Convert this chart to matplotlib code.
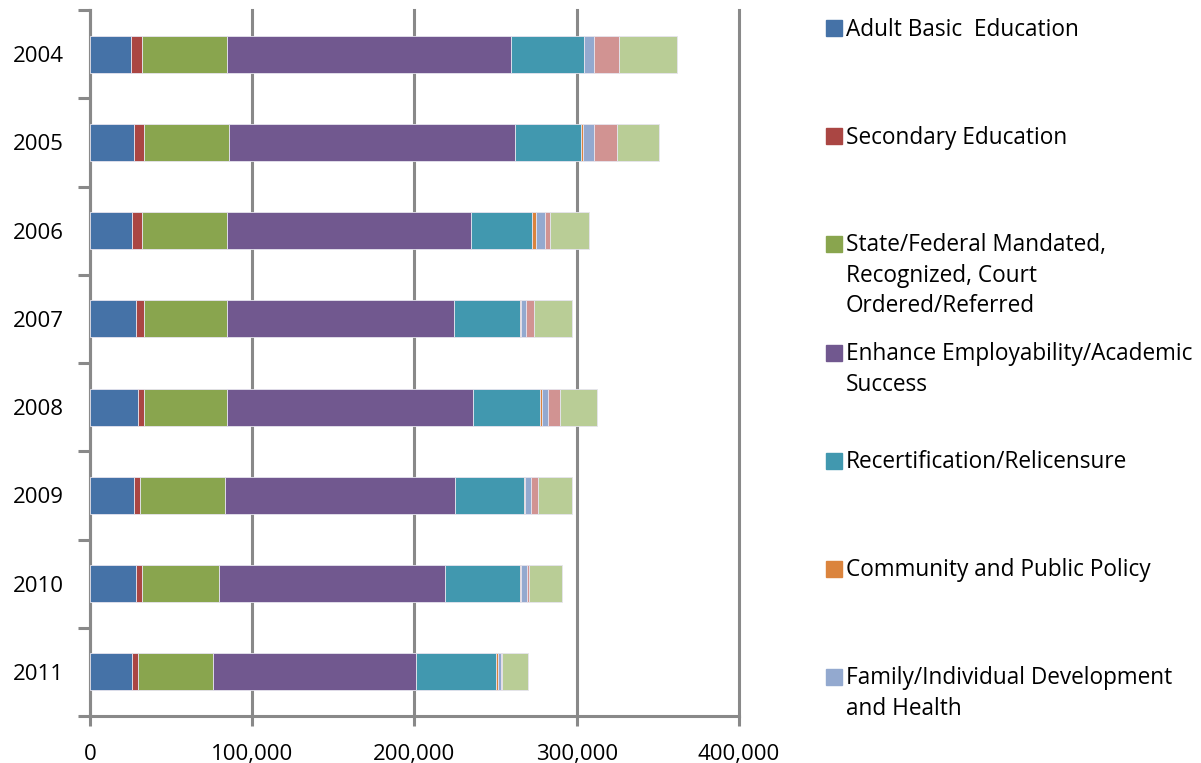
import matplotlib
matplotlib.use("Agg")
import matplotlib.pyplot as plt
from matplotlib.patches import Rectangle
import numpy as np

years = ["2004", "2005", "2006", "2007", "2008", "2009", "2010", "2011"]

adult_basic = [25.0, 27.4, 25.9, 28.3, 29.5, 27.4, 28.3, 25.9]
secondary = [6.8, 5.6, 5.9, 4.7, 3.5, 3.5, 3.5, 3.8]
state_federal = [52.6, 52.6, 52.6, 51.4, 51.4, 52.4, 47.7, 46.2]
enhance = [175.0, 176.2, 150.7, 139.7, 151.9, 141.9, 139.6, 125.0]
recert = [44.8, 40.8, 37.5, 41.2, 41.3, 42.5, 46.2, 49.6]
community = [0.3, 1.4, 2.4, 0.3, 1.2, 0.3, 0.3, 1.2]
family = [5.9, 6.4, 5.2, 3.3, 3.5, 3.5, 3.5, 1.4]
series_8 = [15.8, 14.6, 3.3, 4.9, 7.1, 4.9, 1.2, 1.1]
series_9 = [35.4, 25.5, 24.3, 23.1, 23.3, 20.5, 20.5, 15.8]

legend_labels = [
    "Adult Basic  Education",
    "Secondary Education",
    "State/Federal Mandated,\nRecognized, Court\nOrdered/Referred",
    "Enhance Employability/Academic\nSuccess",
    "Recertification/Relicensure",
    "Community and Public Policy",
    "Family/Individual Development\nand Health",
]

xtick_values = [0, 100000, 200000, 300000, 400000]
xtick_labels = ["0", "100,000", "200,000", "300,000", "400,000"]

series = [adult_basic, secondary, state_federal, enhance, recert,
          community, family, series_8, series_9]
colors = ["#4572A7", "#AA4643", "#89A54E", "#71588F", "#4198AF",
          "#DB843D", "#93A9CF", "#D19392", "#B9CD96"]

FONT = "Open Sans"
grid_gray = "#898989"

fig = plt.figure(figsize=(12.01, 7.63), dpi=100)
ax = fig.add_axes([90 / 1201, 1 - 716 / 763, (739 - 90) / 1201, (716 - 10) / 763])

y = np.arange(len(years))
left = np.zeros(len(years))
for vals, c in zip(series, colors):
    v = np.array(vals) * 1000
    ax.barh(y, v, left=left, height=0.42, color=c, edgecolor="#e6e4ee",
            linewidth=0.6, zorder=3)
    left += v

ax.set_xlim(0, 400000)
ax.set_ylim(len(years) - 0.5, -0.5)
ax.set_xticks(xtick_values)
ax.set_xticklabels(xtick_labels, fontfamily=FONT, fontsize=16)
ax.set_yticks(y)
ax.set_yticklabels(years, fontfamily=FONT, fontsize=16)
ax.set_yticks(np.arange(-0.5, len(years) + 0.5, 1), minor=True)
ax.tick_params(axis="y", which="major", length=0, pad=19)
ax.tick_params(axis="y", which="minor", length=9, width=2.2, color=grid_gray)
ax.tick_params(axis="x", which="major", length=7, width=2.2, color=grid_gray, pad=13)

ax.grid(axis="x", color=grid_gray, linewidth=2.2, zorder=0)
for gl in ax.get_xgridlines():
    gl.set_clip_on(False)
ax.set_axisbelow(True)
for s in ["top", "right"]:
    ax.spines[s].set_visible(False)
for s in ["left", "bottom"]:
    ax.spines[s].set_color(grid_gray)
    ax.spines[s].set_linewidth(2.2)

# legend (truncated in the reference: only first seven entries visible)
starts = [28, 136, 244, 353, 461, 569, 677]
line_step = 30.5
for lab, c, yp in zip(legend_labels, colors, starts):
    fig.add_artist(Rectangle((826 / 1201, 1 - (yp + 8) / 763), 16 / 1201, 16 / 763,
                             transform=fig.transFigure, color=c))
    for i, line in enumerate(lab.split("\n")):
        fig.text(846 / 1201, 1 - (yp + 7.5 + i * line_step) / 763, line,
                 fontfamily=FONT, fontsize=16.3, va="baseline", ha="left")

fig.savefig("out.png", dpi=100)
